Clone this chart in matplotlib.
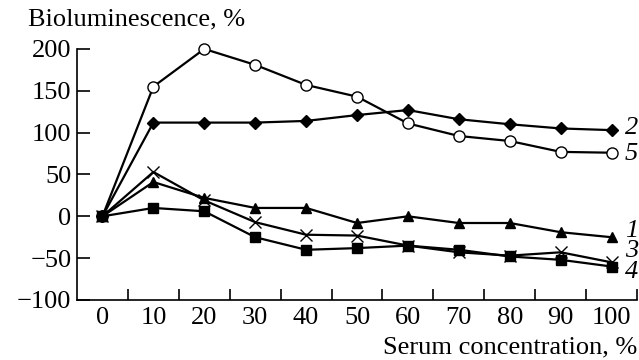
import numpy as np
import matplotlib.pyplot as plt
import matplotlib.ticker as mticker

# Data
serum = [0, 10, 20, 30, 40, 50, 60, 70, 80, 90, 100]
curve1 = [0, 41, 22, 10, 10, -8, 0, -8, -8, -19, -25]        # triangles
curve2 = [0, 112, 112, 112, 114, 121, 127, 116, 110, 105, 103]  # diamonds
curve3 = [0, 53, 19, -7, -22, -23, -35, -43, -47, -43, -55]  # crosses
curve4 = [0, 10, 6, -25, -40, -38, -35, -40, -48, -52, -60]  # squares
curve5 = [0, 155, 200, 181, 157, 143, 111, 96, 90, 77, 76]   # open circles

plt.rcParams["font.family"] = ["Liberation Serif", "DejaVu Serif"]

fig = plt.figure(figsize=(6.39, 3.6), dpi=100)
ax = fig.add_axes([0.1205, 0.1667, 0.8765, 0.6973])

lw = 1.6
kw = dict(color="black", lw=lw, zorder=3, clip_on=False)
ax.plot(serum, curve5, "-o", ms=8, mfc="white", mec="black", mew=1.0, **kw)
ax.plot(serum, curve2, "-D", ms=6.5, **kw)
ax.plot(serum, curve1, "-^", ms=7.5, **kw)
ax.plot(serum, curve3, "-x", ms=9, mew=1.0, **kw)
ax.plot(serum, curve4, "-s", ms=7.5, **kw)

ax.set_xlim(-5, 105)
ax.set_ylim(-100, 200)
ax.set_xticks(serum)
ax.xaxis.set_minor_locator(mticker.FixedLocator(np.arange(5, 106, 10)))
ax.set_yticks([-100, -50, 0, 50, 100, 150, 200])
ax.yaxis.set_major_formatter(mticker.FuncFormatter(lambda v, p: f"{int(v)}".replace("-", "\u2212")))

ax.tick_params(axis="x", which="major", length=0, labelsize=19, pad=5)
ax.tick_params(axis="x", which="minor", direction="in", length=8, width=1.2)
ax.tick_params(axis="y", direction="in", length=9, width=1.2, labelsize=19, pad=4)

for s in ["top", "right"]:
    ax.spines[s].set_visible(False)
for s in ["left", "bottom"]:
    ax.spines[s].set_linewidth(1.2)

# curve numbers
fs = 19
lx = 102.6
for txt, yv in [("2", 106), ("5", 75), ("1", -17), ("3", -41), ("4", -67)]:
    ax.text(lx, yv, txt, style="italic", fontsize=fs, va="center", ha="left", clip_on=False)

fig.text(0.044, 0.945, "Bioluminescence, %", fontsize=19, ha="left", va="center")
fig.text(0.997, 0.035, "Serum concentration, %", fontsize=19, ha="right", va="center")

fig.savefig("out.png", dpi=100)
